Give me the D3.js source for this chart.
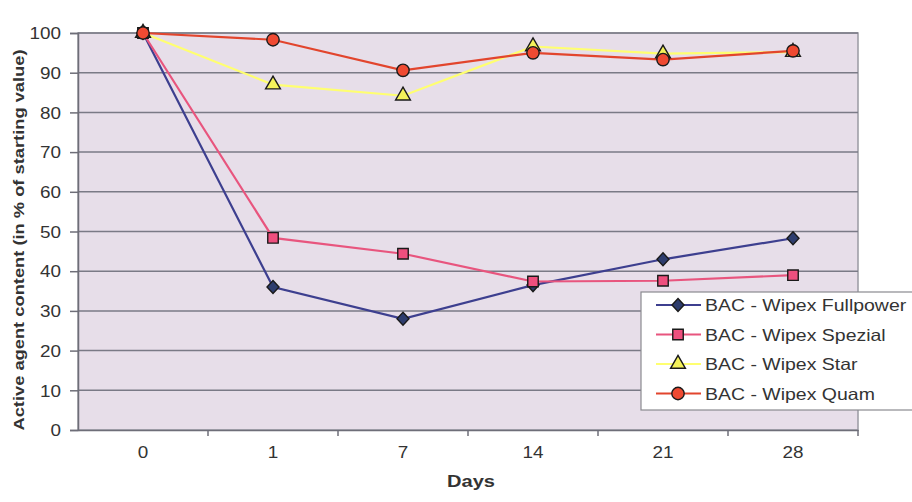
<!DOCTYPE html>
<html><head><meta charset="utf-8">
<script src="https://cdn.jsdelivr.net/npm/d3@7"></script>
<style>body{margin:0;background:#fff}svg{display:block}text{font-family:"Liberation Sans",Arial,sans-serif}</style>
</head><body><svg id="c" width="912" height="502"></svg>
<script>
const categories = ["0","1","7","14","21","28"];
const yTicks = [0,10,20,30,40,50,60,70,80,90,100];
const fullpower = [100,36,28,36.5,43,48.3];
const spezial = [100,48.4,44.4,37.4,37.6,39];
const star = [100,87,84.2,96.6,94.8,95.2];
const quam = [100,98.3,90.6,95,93.3,95.5];
const seriesNames = ["BAC - Wipex Fullpower","BAC - Wipex Spezial","BAC - Wipex Star","BAC - Wipex Quam"];

const series = [
  {name:seriesNames[0], values:fullpower, line:"#3d3f8f", fill:"#2e3d6e", shape:"diamond"},
  {name:seriesNames[1], values:spezial, line:"#e8557e", fill:"#ee4f7e", shape:"square"},
  {name:seriesNames[2], values:star, line:"#ffff70", fill:"#f4f25a", shape:"triangle"},
  {name:seriesNames[3], values:quam, line:"#e2452d", fill:"#ef4a32", shape:"circle"}
];

const svg = d3.select("#c");
const L=78, R=858, T=33, B=430;
const x = d3.scaleBand().domain(categories).range([L,R]);
const y = d3.scaleLinear().domain([0,100]).range([B,T]);
const TXT = "#333";

svg.append("rect").attr("x",L).attr("y",T).attr("width",R-L).attr("height",B-T)
  .attr("fill","#e7dee9").attr("stroke","#9a9aa2").attr("stroke-width",1.5);

svg.append("g").selectAll("line").data(yTicks.filter(d=>d>0)).join("line")
  .attr("x1",L).attr("x2",R).attr("y1",d=>y(d)).attr("y2",d=>y(d))
  .attr("stroke","#7a7a86").attr("stroke-width",1.5);

const ya = svg.append("g").attr("transform",`translate(${L},0)`)
  .call(d3.axisLeft(y).tickValues(yTicks).tickSize(8).tickPadding(9));
ya.select(".domain").attr("stroke","#6e6e78").attr("stroke-width",1.5);
ya.selectAll(".tick line").attr("stroke","#6e6e78").attr("stroke-width",1.5);
ya.selectAll("text").attr("font-size",16).attr("fill",TXT).attr("font-family","Liberation Sans, Arial, sans-serif")
  .attr("class","stretch").attr("dy","0.36em");

const xa = svg.append("g").attr("transform",`translate(0,${B})`)
  .call(d3.axisBottom(x).tickSize(0).tickPadding(0));
xa.select(".domain").attr("stroke","#6e6e78").attr("stroke-width",1.5);
xa.selectAll("text").attr("font-size",16).attr("fill",TXT).attr("font-family","Liberation Sans, Arial, sans-serif")
  .attr("class","stretch").attr("y",28).attr("dy",0);
svg.append("g").selectAll("line").data(categories).join("line")
  .attr("x1",d=>x(d)+x.bandwidth()).attr("x2",d=>x(d)+x.bandwidth())
  .attr("y1",B).attr("y2",B+6).attr("stroke","#6e6e78").attr("stroke-width",1.5);

svg.append("text").attr("class","stretch").attr("x",471).attr("y",487).attr("text-anchor","middle")
  .attr("font-size",17).attr("font-weight","bold").attr("fill",TXT).text("Days");
svg.append("text").attr("class","stretch").attr("transform",`translate(24,240) rotate(-90)`).attr("text-anchor","middle")
  .attr("font-size",15.5).attr("font-weight","bold").attr("fill",TXT)
  .text("Active agent content (in % of starting value)");

const cx = (d,i)=>x(categories[i])+x.bandwidth()/2;
const line = d3.line().x((d,i)=>cx(d,i)).y(d=>y(d));

function marker(g, shape, fill){
  let p;
  if (shape === "diamond") {
    p = g.append("path").attr("d","M0,-6.5L6,0L0,6.5L-6,0Z");
  } else {
    const sz = {square:110, triangle:95, circle:120}[shape];
    const sym = {square:d3.symbolSquare, triangle:d3.symbolTriangle, circle:d3.symbolCircle}[shape];
    p = g.append("path").attr("d", d3.symbol().type(sym).size(sz)());
  }
  return p.attr("fill",fill).attr("stroke","#1a1a1a").attr("stroke-width",1.4);
}

series.forEach(s=>{
  svg.append("path").datum(s.values).attr("d",line).attr("fill","none")
    .attr("stroke",s.line).attr("stroke-width",2.2);
});
series.forEach(s=>{
  s.values.forEach((v,i)=>{
    const g = svg.append("g").attr("transform",`translate(${cx(v,i)},${y(v)})`);
    marker(g, s.shape, s.fill);
  });
});

const lg = svg.append("g");
lg.append("rect").attr("x",641).attr("y",292).attr("width",280).attr("height",118)
  .attr("fill","#fff").attr("stroke","#8a8a90").attr("stroke-width",1.2);
series.forEach((s,i)=>{
  const yy = 305 + i*29.5;
  lg.append("line").attr("x1",656).attr("x2",701).attr("y1",yy).attr("y2",yy)
    .attr("stroke",s.line).attr("stroke-width",2);
  const g = lg.append("g").attr("transform",`translate(678,${yy})`);
  marker(g, s.shape, s.fill);
  lg.append("text").attr("class","stretch").attr("x",705).attr("y",yy+6).attr("font-size",16.5).attr("fill",TXT).text(s.name);
});

svg.selectAll("text.stretch").each(function(){
  const w = this.getComputedTextLength();
  d3.select(this).attr("textLength", w*1.18).attr("lengthAdjust","spacingAndGlyphs");
});
</script></body></html>
